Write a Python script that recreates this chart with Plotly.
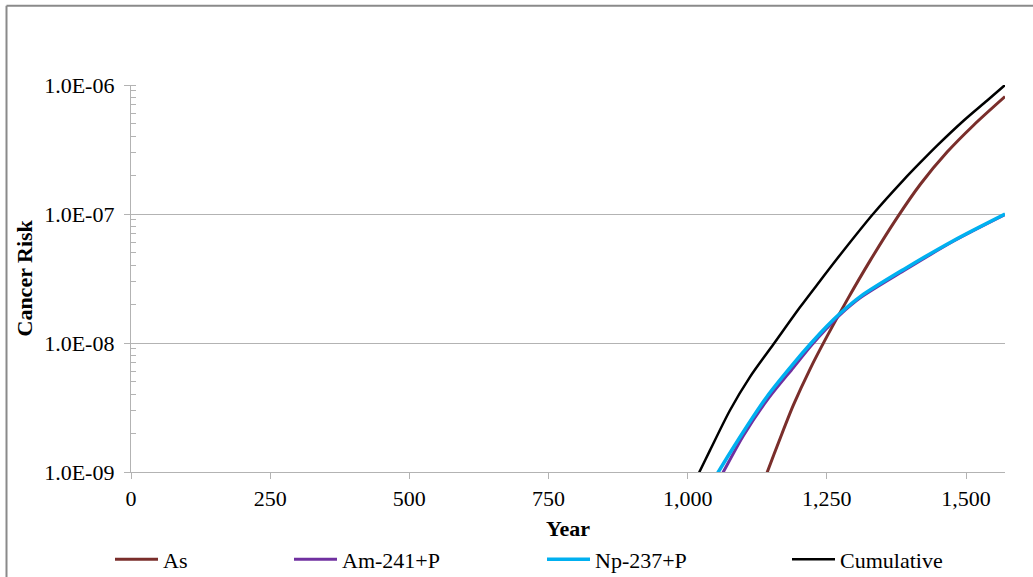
import plotly.graph_objects as go

# ---- data ----
years_as = [1130, 1143, 1166, 1190, 1220, 1250, 1286, 1328, 1376, 1418, 1466, 1514, 1570]
risk_as = [7.08e-10, 1.0e-9, 1.82e-9, 3.31e-9, 6.31e-9, 1.12e-8, 2.14e-8, 4.37e-8, 9.33e-8,
           1.70e-7, 3.02e-7, 4.90e-7, 8.13e-7]

years_am = [1045, 1064, 1100, 1145, 1190, 1222, 1250, 1274, 1310, 1388, 1478, 1570]
risk_am = [7.08e-10, 1.0e-9, 1.91e-9, 3.72e-9, 6.46e-9, 9.55e-9, 1.30e-8, 1.66e-8, 2.24e-8,
           3.63e-8, 6.17e-8, 9.89e-8]

years_np = [1035, 1055, 1094, 1142, 1190, 1222, 1250, 1274, 1310, 1388, 1478, 1570]
risk_np = [7.08e-10, 1.0e-9, 1.87e-9, 3.82e-9, 6.92e-9, 1.0e-8, 1.35e-8, 1.70e-8, 2.29e-8,
           3.72e-8, 6.24e-8, 1.0e-7]

years_cum = [1000, 1021, 1040, 1076, 1112, 1154, 1202, 1238, 1268, 1333, 1388, 1418, 1448,
             1496, 1538, 1570]
risk_cum = [6.46e-10, 1.0e-9, 1.47e-9, 3.01e-9, 5.46e-9, 9.77e-9, 1.90e-8, 3.04e-8, 4.48e-8,
            1.0e-7, 1.84e-7, 2.51e-7, 3.39e-7, 5.31e-7, 7.59e-7, 1.0e-6]

y_tickvals = [1e-9, 1e-8, 1e-7, 1e-6]
y_ticktext = ["1.0E-09", "1.0E-08", "1.0E-07", "1.0E-06"]
x_tickvals = [0, 250, 500, 750, 1000, 1250, 1500]

FONT = "Liberation Serif"
FS = 22
GRID = "#b3b3b3"

W, H = 1033, 577
ML, MR, MT, MB = 131, 28, 85, 105

fig = go.Figure()
series = [
    ("As", years_as, risk_as, "#7a2e2b", 3, "legend"),
    ("Am-241+P", years_am, risk_am, "#7030a0", 3, "legend2"),
    ("Np-237+P", years_np, risk_np, "#00b0f0", 3.5, "legend3"),
    ("Cumulative", years_cum, risk_cum, "#000000", 2.5, "legend4"),
]
for name, xs, ys, col, w, lg in series:
    fig.add_trace(go.Scatter(x=xs, y=ys, name=name, mode="lines",
                             line=dict(color=col, width=w, shape="spline", smoothing=0.8),
                             legend=lg))

leg_common = dict(orientation="h", yanchor="middle", xanchor="left",
                  xref="container", yref="container", itemwidth=43,
                  font=dict(family=FONT, size=FS, color="black"),
                  bgcolor="rgba(0,0,0,0)", borderwidth=0)
leg_y = 1 - 559.5 / H
fig.update_layout(
    width=W, height=H,
    margin=dict(l=ML, r=MR, t=MT, b=MB),
    paper_bgcolor="white", plot_bgcolor="white",
    font=dict(family=FONT, size=FS, color="black"),
    legend=dict(x=110 / W, y=leg_y, **leg_common),
    legend2=dict(x=289 / W, y=leg_y, **leg_common),
    legend3=dict(x=542 / W, y=leg_y, **leg_common),
    legend4=dict(x=787 / W, y=leg_y, **leg_common),
    xaxis=dict(range=[0, 1570], tickvals=x_tickvals, tickformat=",d",
               showgrid=False, zeroline=False,
               showline=True, linecolor=GRID, linewidth=1.3,
               ticks="outside", ticklen=6, tickcolor=GRID, tickwidth=1.3,
               tickfont=dict(family=FONT, size=FS, color="black")),
    yaxis=dict(type="log", range=[-9, -6], tickvals=y_tickvals, ticktext=y_ticktext,
               showgrid=True, gridcolor=GRID, gridwidth=1.3, zeroline=False,
               showline=True, linecolor=GRID, linewidth=1.3,
               ticks="outside", ticklen=6, tickcolor=GRID, tickwidth=1.3,
               ticklabelstandoff=5,
               tickfont=dict(family=FONT, size=FS, color="black"),
               minor=dict(ticks="inside", ticklen=5, tickcolor=GRID, tickwidth=1,
                          dtick="D1", showgrid=False)),
    showlegend=True,
)

pw, ph = W - ML - MR, H - MT - MB
# axis titles
fig.add_annotation(text="<b>Year</b>", xref="paper", yref="paper", x=0.5,
                   y=-(528 - (H - MB)) / ph,
                   xanchor="center", yanchor="middle", showarrow=False,
                   font=dict(family=FONT, size=FS, color="black"))
fig.add_annotation(text="<b>Cancer Risk</b>", xref="paper", yref="paper",
                   x=(24 - ML) / pw, y=0.5,
                   xanchor="center", yanchor="middle", showarrow=False, textangle=-90,
                   font=dict(family=FONT, size=FS, color="black"))

# outer chart frame (left and top edges visible)
fx = (6.5 - ML) / pw
fy = ((H - MB) - 5.7) / ph
fig.add_shape(type="line", xref="paper", yref="paper", x0=fx, x1=fx, y0=-0.5, y1=fy,
              line=dict(color="#8a8a8a", width=2))
fig.add_shape(type="line", xref="paper", yref="paper", x0=fx, x1=1.2, y0=fy, y1=fy,
              line=dict(color="#8a8a8a", width=2))

fig.write_html("out.html", config={"displayModeBar": False},
               post_script="document.body.style.margin='0';")
